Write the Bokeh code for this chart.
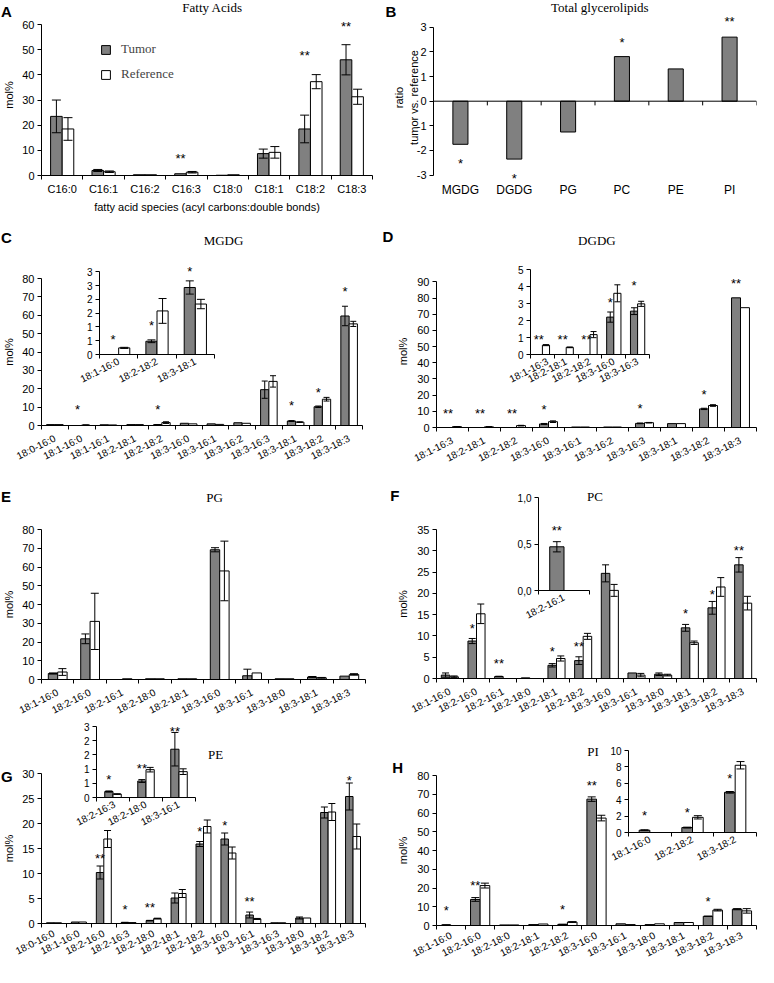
from bokeh.plotting import figure
from bokeh.models import (ColumnDataSource, FixedTicker, Legend, LegendItem,
                          Whisker, TeeHead, GridBox, Span, Range1d)
from bokeh.embed import file_html
from bokeh.resources import INLINE
from bokeh.core.properties import value

# ---------------- data ----------------
# A: fatty acids
fa_species = ["C16:0", "C16:1", "C16:2", "C16:3", "C18:0", "C18:1", "C18:2", "C18:3"]
fa_tumor = [23.5, 2.0, 0.3, 0.7, 0.1, 8.7, 18.5, 46.0]
fa_tumor_err = [6.5, 0.4, 0, 0, 0, 1.8, 5.5, 6.0]
fa_ref = [18.5, 1.5, 0.3, 1.3, 0.3, 9.2, 37.3, 31.3]
fa_ref_err = [4.5, 0.3, 0, 0.3, 0, 2.3, 2.8, 3.0]
fa_sig = ["", "", "", "**", "", "", "**", "**"]
fa_sig_y = [0, 0, 0, 8.3, 0, 0, 49.4, 60.7]
fa_yticks = [0, 10, 20, 30, 40, 50, 60]

# B: total glycerolipids
gl_classes = ["MGDG", "DGDG", "PG", "PC", "PE", "PI"]
gl_ratio = [-1.75, -2.35, -1.25, 1.81, 1.31, 2.6]
gl_sig = ["*", "*", "", "*", "", "**"]
gl_sig_y = [-2.37, -2.97, 0, 2.56, 0, 3.4]
gl_yticks = [-3, -2, -1, 0, 1, 2, 3]
gl_ytick_labels = ["-3", "-2", "-1", "0", "1", "2", "3"]

# C: MGDG
c_species = ["18:0-16:0", "18:1-16:0", "18:1-16:1", "18:2-18:1", "18:2-18:2", "18:3-16:0",
             "18:3-16:1", "18:3-16:2", "18:3-16:3", "18:3-18:1", "18:3-18:2", "18:3-18:3"]
c_tumor = [0.5, 0, 0.4, 0.5, 0.48, 1.2, 0.9, 1.5, 19.5, 2.43, 10.2, 59.6]
c_tumor_err = [0, 0, 0, 0, 0.05, 0, 0, 0, 4.7, 0.24, 0.4, 5.3]
c_ref = [0.5, 0.24, 0.3, 0.5, 1.58, 0.9, 0.6, 1.2, 24.0, 1.83, 14.3, 55.3]
c_ref_err = [0, 0.02, 0, 0, 0.45, 0, 0, 0, 3.1, 0.17, 1.0, 1.4]
c_sig = ["", "*", "", "", "*", "", "", "", "", "*", "*", "*"]
c_sig_y = [0, 10.7, 0, 0, 10.7, 0, 0, 0, 0, 13.1, 20.2, 75.1]
c_yticks = [0, 10, 20, 30, 40, 50, 60, 70, 80]
c_inset_idx = [1, 4, 9]
c_inset_sig_y = [0.69, 1.21, 3.14]
c_inset_yticks = [0, 0.5, 1.0, 1.5, 2.0, 2.5, 3.0]
c_inset_ytick_labels = ["0", "1", "1", "2", "2", "3", "3"]

# D: DGDG
d_species = ["18:1-16:3", "18:2-18:1", "18:2-18:2", "18:3-16:0", "18:3-16:1", "18:3-16:2",
             "18:3-16:3", "18:3-18:1", "18:3-18:2", "18:3-18:3"]
d_tumor = [0, 0, 0, 2.2, 0.3, 0.3, 2.55, 2.4, 11.5, 80.2]
d_tumor_err = [0, 0, 0, 0.3, 0, 0, 0.2, 0, 0.4, 0]
d_ref = [0.55, 0.42, 1.17, 3.6, 0.3, 0.3, 2.98, 2.4, 13.6, 74.1]
d_ref_err = [0.03, 0.02, 0.18, 0.5, 0, 0, 0.15, 0, 0.5, 0]
d_sig = ["**", "**", "**", "*", "", "", "*", "", "*", "**"]
d_sig_y = [11.1, 11.1, 11.1, 13.6, 0, 0, 14.0, 0, 22.7, 91.5]
d_yticks = [0, 10, 20, 30, 40, 50, 60, 70, 80, 90]
d_inset_idx = [0, 1, 2, 3, 6]
d_inset_sig_y = [1.09, 1.09, 1.09, 3.3, 4.28]
d_inset_yticks = [0, 1, 2, 3, 4, 5]

# E: PG
e_species = ["18:1-16:0", "18:2-16:0", "18:2-16:1", "18:2-18:0", "18:2-18:1", "18:3-16:0",
             "18:3-16:1", "18:3-18:0", "18:3-18:1", "18:3-18:3"]
e_tumor = [3.2, 21.7, 0, 0.4, 0.4, 69.2, 2.0, 0.4, 1.3, 1.8]
e_tumor_err = [0.3, 2.6, 0, 0, 0, 1.1, 3.5, 0, 0.3, 0]
e_ref = [4.0, 31.0, 0.4, 0.4, 0.4, 57.9, 3.5, 0.4, 0.9, 2.7]
e_ref_err = [1.8, 15.0, 0, 0, 0, 15.9, 0, 0, 0.2, 0.4]
e_yticks = [0, 10, 20, 30, 40, 50, 60, 70, 80]

# F: PC
f_species = ["18:1-16:0", "18:2-16:0", "18:2-16:1", "18:2-18:0", "18:2-18:1", "18:2-18:2",
             "18:3-16:0", "18:3-16:1", "18:3-18:0", "18:3-18:1", "18:3-18:2", "18:3-18:3"]
f_tumor = [0.8, 8.8, 0.47, 0.15, 3.1, 4.2, 24.7, 1.3, 1.0, 11.9, 16.6, 26.7]
f_tumor_err = [0.5, 0.6, 0.055, 0, 0.4, 0.9, 2.0, 0, 0.3, 0.8, 1.5, 1.7]
f_ref = [0.4, 15.2, 0, 0, 4.7, 9.9, 20.7, 0.8, 0.8, 8.4, 21.5, 17.7]
f_ref_err = [0.2, 2.3, 0, 0, 0.6, 0.7, 1.4, 0.4, 0.2, 0.4, 2.2, 1.6]
f_sig = ["", "*", "**", "", "*", "**", "", "", "", "*", "*", "**"]
f_sig_y = [0, 12.8, 4.5, 0, 7.2, 8.5, 0, 0, 0, 16.1, 20.7, 30.9]
f_yticks = [0, 5, 10, 15, 20, 25, 30, 35]
f_inset_idx = [2]
f_inset_sig_y = [0.69]
f_inset_yticks = [0, 0.5, 1.0]
f_inset_ytick_labels = ["0,0", "0,5", "1,0"]

# G: PE
g_species = ["18:0-16:0", "18:1-16:0", "18:2-16:0", "18:2-16:3", "18:2-18:0", "18:2-18:1",
             "18:2-18:2", "18:3-16:0", "18:3-16:1", "18:3-16:3", "18:3-18:0", "18:3-18:2", "18:3-18:3"]
g_tumor = [0.15, 0.3, 10.2, 0.21, 0.58, 5.1, 15.9, 16.9, 1.70, 0.15, 1.1, 22.2, 25.4]
g_tumor_err = [0, 0, 1.3, 0.02, 0.05, 1.0, 0.5, 1.2, 0.59, 0, 0.2, 1.1, 2.7]
g_ref = [0.15, 0.3, 16.9, 0.12, 0.98, 6.0, 19.4, 14.1, 0.91, 0.15, 1.1, 22.3, 17.4]
g_ref_err = [0, 0, 1.7, 0.01, 0.08, 0.8, 1.3, 1.2, 0.1, 0, 0, 1.7, 2.5]
g_sig = ["", "", "**", "*", "**", "", "*", "*", "**", "", "", "", "*"]
g_sig_y = [0, 0, 13.8, 3.7, 4.1, 0, 19.2, 20.4, 5.3, 0, 0, 0, 29.5]
g_yticks = [0, 5, 10, 15, 20, 25, 30]
g_inset_idx = [3, 4, 8]
g_inset_sig_y = [0.78, 1.15, 2.45]
g_inset_yticks = [0, 0.5, 1.0, 1.5, 2.0, 2.5]
g_inset_ytick_labels = ["0", "1", "1", "2", "2", "3"]

# H: PI
h_species = ["18:1-16:0", "18:2-16:0", "18:2-18:0", "18:2-18:1", "18:2-18:2", "18:3-16:0",
             "18:3-16:1", "18:3-18:0", "18:3-18:1", "18:3-18:2", "18:3-18:3"]
h_tumor = [0.28, 13.9, 0.3, 0.5, 0.6, 67.4, 0.9, 0.5, 1.6, 4.9, 8.7]
h_tumor_err = [0.05, 1.0, 0, 0, 0.05, 1.2, 0, 0, 0, 0.1, 0.3]
h_ref = [0, 21.3, 0.3, 0.8, 1.85, 57.3, 0.5, 0.9, 1.6, 8.2, 7.8]
h_ref_err = [0, 1.3, 0, 0, 0.2, 1.5, 0, 0, 0, 0.45, 1.2]
h_sig = ["*", "**", "", "", "*", "**", "", "", "", "*", ""]
h_sig_y = [9.9, 23.3, 0, 0, 10.8, 77.0, 0, 0, 0, 14.8, 0]
h_yticks = [0, 10, 20, 30, 40, 50, 60, 70, 80]
h_inset_idx = [0, 4, 9]
h_inset_sig_y = [2.57, 2.9, 7.1]
h_inset_yticks = [0, 2, 4, 6, 8, 10]

# panel letters and titles
panel_letters = ["A", "B", "C", "D", "E", "F", "G", "H"]
panel_titles = ["Fatty Acids", "Total glycerolipids", "MGDG", "DGDG", "PG", "PC", "PE", "PI"]

# ---------------- style / geometry ----------------
GRAY = "#808080"
SANS = "Liberation Sans"
SERIF = "Liberation Serif"
ANGLE = 0.47
GW, GH = 758, 967

def fx_left(x):
    return x

def fx_right(x):
    return 390 + (x - 390) * 0.979

def fy(y):
    return 8 + (y - 1) * (967.0 / 984.0)

panels = []

def new_panel(fig_ref, frame_ref, col, n, ylo, yhi):
    fx = fx_left if col == 0 else fx_right
    FL = max(8, round(fx(fig_ref[0]))); FR = min(766, round(fx(fig_ref[1])))
    FT = max(8, round(fy(fig_ref[2]))); FB = min(975, round(fy(fig_ref[3])))
    fl = round(fx(frame_ref[0])); fr = round(fx(frame_ref[1]))
    ft = round(fy(frame_ref[2])); fb = round(fy(frame_ref[3]))
    p = figure(width=FR - FL, height=FB - FT,
               x_range=Range1d(-0.5, n - 0.5), y_range=Range1d(ylo, yhi),
               min_border_left=fl - FL, min_border_right=FR - fr,
               min_border_top=ft - FT, min_border_bottom=FB - fb,
               output_backend="svg", toolbar_location=None, tools="")
    p.frame_align = False
    p.xgrid.visible = False
    p.ygrid.visible = False
    p.outline_line_color = None
    p.background_fill_alpha = 0
    p.border_fill_alpha = 0
    panels.append((p, dict(FL=FL, FR=FR, FT=FT, FB=FB)))
    return p

def draw_pair(p, tumor, terr, ref, rerr, w, head):
    n = len(tumor)
    xt = [i - w / 2 for i in range(n)]
    xr = [i + w / 2 for i in range(n)]
    rt = p.vbar(x=xt, top=tumor, width=w, bottom=0, fill_color=GRAY, line_color="black", line_width=1)
    rr = p.vbar(x=xr, top=ref, width=w, bottom=0, fill_color="white", line_color="black", line_width=1)
    for xs_, vals, errs in ((xt, tumor, terr), (xr, ref, rerr)):
        keep = [k for k in range(n) if errs[k] > 0]
        if keep:
            src = ColumnDataSource(dict(base=[xs_[k] for k in keep],
                                        upper=[vals[k] + errs[k] for k in keep],
                                        lower=[max(0, vals[k] - errs[k]) for k in keep]))
            p.add_layout(Whisker(source=src, base="base", upper="upper", lower="lower",
                                 line_color="black", line_width=1, level="annotation",
                                 upper_head=TeeHead(size=head, line_color="black", line_width=1),
                                 lower_head=TeeHead(size=head, line_color="black", line_width=1)))
    return rt, rr, xt

def stars(p, xs, sig, sig_y, size="13px"):
    keep = [k for k in range(len(sig)) if sig[k]]
    if keep:
        p.text(x=[xs[k] for k in keep], y=[sig_y[k] for k in keep], text=[sig[k] for k in keep],
               text_align="center", text_baseline="middle", text_font=value(SANS),
               text_font_size=size, y_offset=4, text_color="black")

def style_axes(p, names, yticks, ylabels=None, xsize="10px", ysize="11px", angle=ANGLE,
               ylabel=None, ylabel_standoff=4, xstandoff=2):
    xa = p.xaxis[0]
    ya = p.yaxis[0]
    n = len(names)
    xa.ticker = FixedTicker(ticks=list(range(n)), minor_ticks=[i - 0.5 for i in range(n + 1)])
    xa.major_label_overrides = {i: s for i, s in enumerate(names)}
    xa.major_tick_line_color = None
    xa.major_tick_in = 0
    xa.major_tick_out = 4
    xa.minor_tick_line_color = "black"
    xa.minor_tick_in = 0
    xa.minor_tick_out = 4
    xa.major_label_orientation = angle
    xa.major_label_text_font = SANS
    xa.major_label_text_font_size = xsize
    xa.major_label_standoff = xstandoff
    ya.ticker = FixedTicker(ticks=yticks, minor_ticks=[])
    if ylabels is not None:
        ya.major_label_overrides = {t: s for t, s in zip(yticks, ylabels)}
    ya.major_tick_in = 0
    ya.major_tick_out = 4
    ya.minor_tick_line_color = None
    ya.major_label_text_font = SANS
    ya.major_label_text_font_size = ysize
    ya.major_label_standoff = 3
    ya.bounds = (yticks[0], yticks[-1])
    for a in (xa, ya):
        a.axis_line_color = "black"
        a.axis_line_width = 1
        a.major_label_text_color = "black"
    if ylabel:
        ya.axis_label = ylabel
        ya.axis_label_text_font = SANS
        ya.axis_label_text_font_size = "11px"
        ya.axis_label_text_font_style = "normal"
        ya.axis_label_text_color = "black"
        ya.axis_label_standoff = ylabel_standoff

def sub(arr, idx):
    return [arr[i] for i in idx]

# ---------------- A ----------------
pA = new_panel((1, 384, 1, 242), (47, 380, 15.46, 179.3), 0, len(fa_species), 0, 64)
rtA, rrA, xtA = draw_pair(pA, fa_tumor, fa_tumor_err, fa_ref, fa_ref_err, 0.28, 9)
stars(pA, xtA, fa_sig, fa_sig_y)
style_axes(pA, fa_species, fa_yticks, xsize="11px", angle="horizontal", ylabel="mol%",
           ylabel_standoff=4, xstandoff=3)
pA.xaxis[0].axis_label = "fatty acid species (acyl carbons:double bonds)"
pA.xaxis[0].axis_label_text_font = SANS
pA.xaxis[0].axis_label_text_font_size = "11px"
pA.xaxis[0].axis_label_text_font_style = "normal"
pA.xaxis[0].axis_label_text_color = "black"
pA.xaxis[0].axis_label_standoff = 3
fbA = round(fy(179.3))
legA = Legend(items=[LegendItem(label="Tumor", renderers=[rtA]),
                     LegendItem(label="Reference", renderers=[rrA])],
              location=(106 - 47, round(fbA - fy(84))),
              border_line_color=None, background_fill_alpha=0,
              label_text_font=SERIF, label_text_font_size="13px",
              glyph_width=11, glyph_height=11, label_height=12, label_standoff=10,
              spacing=9, padding=0, margin=0)
pA.add_layout(legA)

# ---------------- B ----------------
pB = new_panel((384, 774, 1, 242), (441.7, 772, 13.34, 186.5), 1, len(gl_classes), -3.3, 3.6)
xB = list(range(len(gl_classes)))
pB.vbar(x=xB, top=gl_ratio, width=0.28, bottom=0, fill_color=GRAY, line_color="black", line_width=1)
pB.add_layout(Span(location=0, dimension="width", line_color="black", line_width=1))
bndB = [i - 0.5 for i in range(len(gl_classes) + 1)]
pB.segment(x0=bndB, y0=[0] * len(bndB), x1=bndB, y1=[-0.17] * len(bndB), line_color="black", line_width=1)
stars(pB, xB, gl_sig, gl_sig_y)
style_axes(pB, gl_classes, gl_yticks, ylabels=gl_ytick_labels, xsize="12px", angle="horizontal",
           ylabel="ratio\ntumor vs. reference", ylabel_standoff=-6, xstandoff=0)
xaB = pB.xaxis[0]
xaB.axis_line_color = None
xaB.minor_tick_line_color = None
xaB.minor_tick_out = 0
xaB.major_tick_out = 0

# ---------------- C ----------------
pC = new_panel((1, 384, 226, 500), (45, 370, 284.3, 433.3), 0, len(c_species), 0, 80)
_, _, xtC = draw_pair(pC, c_tumor, c_tumor_err, c_ref, c_ref_err, 0.31, 6)
stars(pC, xtC, c_sig, c_sig_y)
style_axes(pC, c_species, c_yticks, ylabel="mol%", ylabel_standoff=4, xstandoff=8)

# ---------------- D ----------------
pD = new_panel((384, 774, 226, 500), (445, 772, 280.8, 435.7), 1, len(d_species), 0, 94)
_, _, xtD = draw_pair(pD, d_tumor, d_tumor_err, d_ref, d_ref_err, 0.28, 6)
stars(pD, xtD, d_sig, d_sig_y)
style_axes(pD, d_species, d_yticks, ylabel="mol%", ylabel_standoff=5, xstandoff=8)

# ---------------- E ----------------
pE = new_panel((1, 384, 485, 755), (46.7, 373, 539, 692.3), 0, len(e_species), 0, 80)
draw_pair(pE, e_tumor, e_tumor_err, e_ref, e_ref_err, 0.29, 8)
style_axes(pE, e_species, e_yticks, ylabel="mol%", ylabel_standoff=4, xstandoff=8)

# ---------------- F ----------------
pF = new_panel((384, 774, 485, 755), (445, 772, 539, 690.7), 1, len(f_species), 0, 35)
_, _, xtF = draw_pair(pF, f_tumor, f_tumor_err, f_ref, f_ref_err, 0.32, 7)
stars(pF, xtF, f_sig, f_sig_y)
style_axes(pF, f_species, f_yticks, ylabel="mol%", ylabel_standoff=5, xstandoff=8)

# ---------------- G ----------------
pG = new_panel((1, 384, 734, 985), (46, 373, 787.7, 940), 0, len(g_species), 0, 30)
_, _, xtG = draw_pair(pG, g_tumor, g_tumor_err, g_ref, g_ref_err, 0.30, 7)
stars(pG, xtG, g_sig, g_sig_y)
style_axes(pG, g_species, g_yticks, ylabel="mol%", ylabel_standoff=4, xstandoff=5)

# ---------------- H ----------------
pH = new_panel((384, 774, 734, 985), (445, 772, 789.3, 942.3), 1, len(h_species), 0, 80)
_, _, xtH = draw_pair(pH, h_tumor, h_tumor_err, h_ref, h_ref_err, 0.33, 8)
stars(pH, xtH, h_sig, h_sig_y)
style_axes(pH, h_species, h_yticks, ylabel="mol%", ylabel_standoff=5, xstandoff=5)

# ---------------- insets ----------------
iC = new_panel((82, 228, 262, 425), (107.3, 221.7, 268.9, 361), 0, len(c_inset_idx), 0, 3.3)
_, _, xiC = draw_pair(iC, sub(c_tumor, c_inset_idx), sub(c_tumor_err, c_inset_idx),
                      sub(c_ref, c_inset_idx), sub(c_ref_err, c_inset_idx), 0.29, 8)
stars(iC, xiC, sub(c_sig, c_inset_idx), c_inset_sig_y)
style_axes(iC, sub(c_species, c_inset_idx), c_inset_yticks, ylabels=c_inset_ytick_labels, ysize="10px")

iD = new_panel((518, 668, 266, 425), (541, 663, 275, 361), 1, len(d_inset_idx), 0, 5)
_, _, xiD = draw_pair(iD, sub(d_tumor, d_inset_idx), sub(d_tumor_err, d_inset_idx),
                      sub(d_ref, d_inset_idx), sub(d_ref_err, d_inset_idx), 0.30, 6)
stars(iD, xiD, sub(d_sig, d_inset_idx), d_inset_sig_y)
style_axes(iD, sub(d_species, d_inset_idx), d_inset_yticks, ysize="10px")

iF = new_panel((522, 606, 500, 665), (549, 601.7, 506.7, 601), 1, len(f_inset_idx), 0, 1.0)
_, _, xiF = draw_pair(iF, sub(f_tumor, f_inset_idx), sub(f_tumor_err, f_inset_idx),
                      sub(f_ref, f_inset_idx), sub(f_ref_err, f_inset_idx), 0.28, 8)
stars(iF, xiF, sub(f_sig, f_inset_idx), f_inset_sig_y)
style_axes(iF, sub(f_species, f_inset_idx), f_inset_yticks, ylabels=f_inset_ytick_labels, ysize="10px")

iG = new_panel((82, 208, 734, 880), (104, 203.3, 739.3, 811.7), 0, len(g_inset_idx), 0, 2.5)
_, _, xiG = draw_pair(iG, sub(g_tumor, g_inset_idx), sub(g_tumor_err, g_inset_idx),
                      sub(g_ref, g_inset_idx), sub(g_ref_err, g_inset_idx), 0.25, 7)
stars(iG, xiG, sub(g_sig, g_inset_idx), g_inset_sig_y)
style_axes(iG, sub(g_species, g_inset_idx), g_inset_yticks, ylabels=g_inset_ytick_labels, ysize="10px")

iH = new_panel((620, 774, 757, 915), (641.7, 772, 764.3, 847.3), 1, len(h_inset_idx), 0, 10)
_, _, xiH = draw_pair(iH, sub(h_tumor, h_inset_idx), sub(h_tumor_err, h_inset_idx),
                      sub(h_ref, h_inset_idx), sub(h_ref_err, h_inset_idx), 0.25, 8)
stars(iH, xiH, sub(h_sig, h_inset_idx), h_inset_sig_y)
style_axes(iH, sub(h_species, h_inset_idx), h_inset_yticks, ysize="10px")

# ---------------- overlay with panel letters and titles ----------------
ov = figure(width=GW, height=GH, x_range=Range1d(0, GW), y_range=Range1d(GH, 0),
            x_axis_type=None, y_axis_type=None, min_border=0,
            output_backend="svg", toolbar_location=None, tools="")
ov.frame_align = False
ov.xgrid.visible = False
ov.ygrid.visible = False
ov.outline_line_color = None
ov.background_fill_alpha = 0
ov.border_fill_alpha = 0
letter_ref = [(2, 4, 0), (393, 4, 1), (2, 234, 0), (390, 232, 1),
              (2, 497, 0), (398, 496, 1), (2, 782, 0), (400, 773, 1)]
title_ref = [(220, 8, 0), (612, 8, 1), (231, 245, 0), (609, 245, 1),
             (222, 506.7, 0), (607, 505.7, 1), (223, 768, 0), (605, 765.7, 1)]
lx = [max(8.5, (fx_left if c == 0 else fx_right)(x)) - 8 for x, y, c in letter_ref]
ly = [fy(y) - 8 for x, y, c in letter_ref]
ov.text(x=lx, y=ly, text=panel_letters, text_font=value(SANS), text_font_size="15px",
        text_font_style="bold", text_align="left", text_baseline="top", text_color="black")
tx = [(fx_left if c == 0 else fx_right)(x) - 8 for x, y, c in title_ref]
ty = [fy(y) - 8 for x, y, c in title_ref]
ov.text(x=tx, y=ty, text=panel_titles, text_font=value(SERIF), text_font_size="13px",
        text_align="center", text_baseline="middle", text_color="black")
panels.append((ov, dict(FL=8, FR=8 + GW, FT=8, FB=8 + GH)))

# ---------------- layout (overlapping grid cells) ----------------
xs = sorted(set([0, GW] + [b["FL"] - 8 for _, b in panels] + [b["FR"] - 8 for _, b in panels]))
ys = sorted(set([0, GH] + [b["FT"] - 8 for _, b in panels] + [b["FB"] - 8 for _, b in panels]))
cols = ["%dpx" % (b - a) for a, b in zip(xs, xs[1:])]
rows = ["%dpx" % (b - a) for a, b in zip(ys, ys[1:])]
children = []
for p, b in panels:
    c0 = xs.index(b["FL"] - 8); c1 = xs.index(b["FR"] - 8)
    r0 = ys.index(b["FT"] - 8); r1 = ys.index(b["FB"] - 8)
    children.append((p, r0, c0, r1 - r0, c1 - c0))

grid = GridBox(children=children, rows=rows, cols=cols, spacing=0)

with open("out.html", "w") as fh:
    fh.write(file_html(grid, INLINE))
